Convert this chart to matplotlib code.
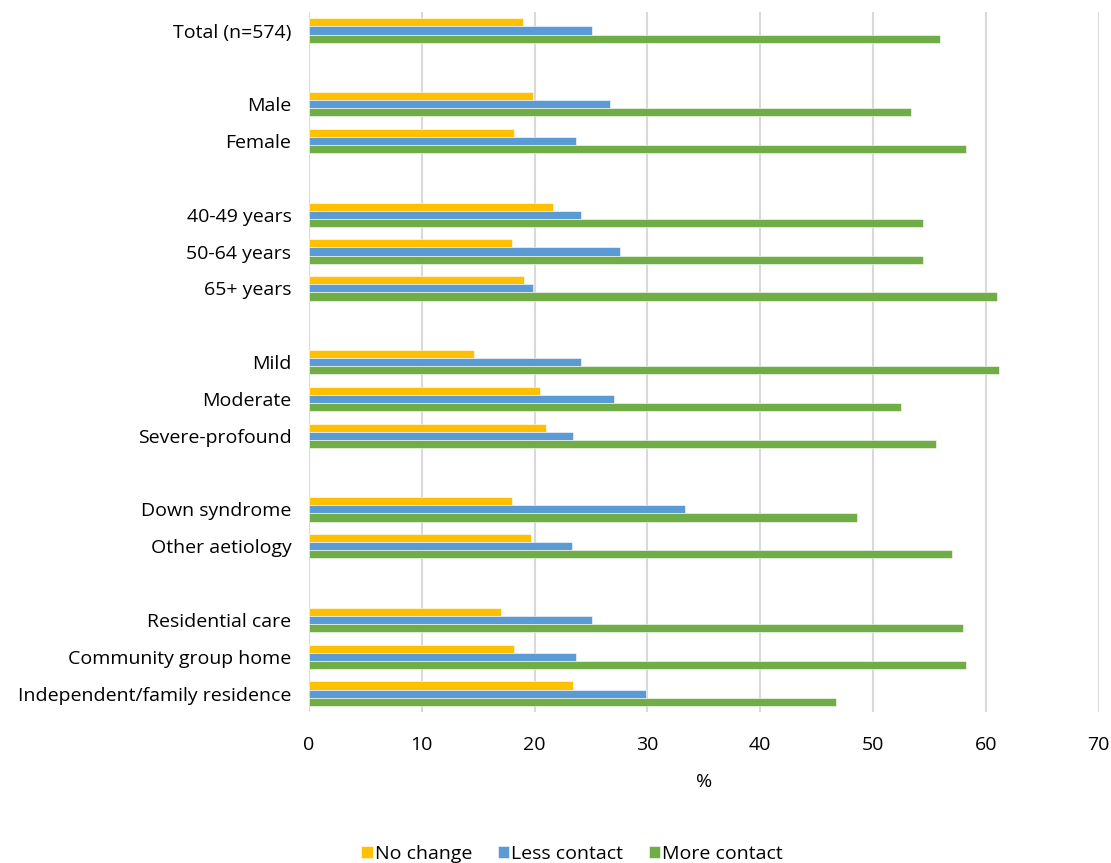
import matplotlib.pyplot as plt
import numpy as np

# categories top to bottom, "" marks a blank spacer row
categories = ["Total (n=574)", "",
              "Male", "Female", "",
              "40-49 years", "50-64 years", "65+ years", "",
              "Mild", "Moderate", "Severe-profound", "",
              "Down syndrome", "Other aetiology", "",
              "Residential care", "Community group home", "Independent/family residence"]

no_change = [19.0, None, 19.9, 18.2, None, 21.6, 18.0, 19.1, None,
             14.6, 20.5, 21.0, None, 18.0, 19.7, None, 17.0, 18.2, 23.4]
less_contact = [25.1, None, 26.7, 23.7, None, 24.1, 27.6, 19.9, None,
                24.1, 27.0, 23.4, None, 33.3, 23.3, None, 25.1, 23.7, 29.9]
more_contact = [55.9, None, 53.4, 58.2, None, 54.4, 54.4, 61.0, None,
                61.2, 52.5, 55.6, None, 48.6, 57.0, None, 58.0, 58.2, 46.7]

series = [("No change", no_change, "#FFC000"),
          ("Less contact", less_contact, "#5B9BD5"),
          ("More contact", more_contact, "#70AD47")]

plt.rcParams['font.family'] = ['Open Sans', 'DejaVu Sans']
fs = 14

fig = plt.figure(figsize=(11.11, 8.63), dpi=100)
ax = fig.add_axes([0.278, 0.175, 0.711, 0.811])

y = np.arange(len(categories))
h = 0.22
for k, (name, vals, col) in enumerate(series):
    v = np.array([np.nan if a is None else a for a in vals])
    ax.barh(y + (k - 1) * h, v, height=h, color=col, label=name,
            edgecolor="white", linewidth=0.4, zorder=3)

ax.set_ylim(len(categories) - 0.5, -0.5)
ax.set_yticks(y)
ax.set_yticklabels(categories, fontsize=fs)
ax.set_xlim(0, 70)
ax.set_xticks(range(0, 71, 10))
ax.tick_params(axis="x", labelsize=fs, length=0, pad=17)
ax.tick_params(axis="y", length=0, pad=12.5)
ax.grid(axis="x", color="#D9D9D9", linewidth=1.5, zorder=0)
for s in ax.spines.values():
    s.set_visible(False)
ax.set_xlabel("%", fontsize=fs, labelpad=14)

handles, labels = ax.get_legend_handles_labels()
fig.legend(handles, labels, loc="lower center", bbox_to_anchor=(0.515, -0.02),
           ncol=3, frameon=False, fontsize=fs, handlelength=0.6,
           handleheight=0.6, handletextpad=0.1, columnspacing=1.3)

fig.savefig("out.png", dpi=100)
